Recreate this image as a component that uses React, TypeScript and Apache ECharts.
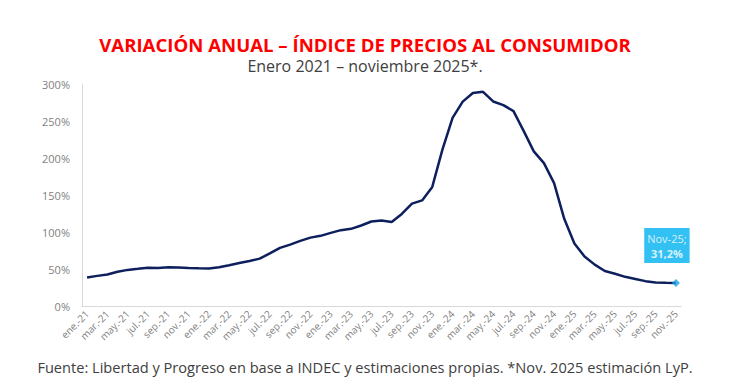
import React, { useEffect, useRef } from "react";
import * as echarts from "echarts";

const years = ["21", "22", "23", "24", "25"];
const months = ["ene.", "feb.", "mar.", "abr.", "may.", "jun.", "jul.", "ago.", "sep.", "oct.", "nov.", "dic."];
const categories: string[] = [];
years.forEach((y) => months.forEach((m) => categories.push(`${m}-${y}`)));
categories.splice(59);

const inflation = [
  38.5, 40.7, 42.6, 46.3, 48.8, 50.2, 51.8, 51.4, 52.5, 52.1, 51.2, 50.9,
  50.7, 52.3, 55.1, 58.0, 60.7, 64.0, 71.0, 78.5, 83.0, 88.0, 92.4, 94.8,
  98.8, 102.5, 104.3, 108.8, 114.2, 115.6, 113.4, 124.4, 138.3, 142.7, 160.9, 211.4,
  254.2, 276.2, 287.9, 289.4, 276.4, 271.5, 263.4, 236.7, 209.0, 193.0, 166.0, 117.8,
  84.5, 66.9, 55.9, 47.3, 43.5, 39.4, 36.6, 33.6, 31.8, 31.3, 31.2,
];

const yTicks = [0, 50, 100, 150, 200, 250, 300];

const titleText = "VARIACIÓN ANUAL – ÍNDICE DE PRECIOS AL CONSUMIDOR";
const subtitleText = "Enero 2021 – noviembre 2025*.";
const sourceText = "Fuente: Libertad y Progreso en base a INDEC y estimaciones propias. *Nov. 2025 estimación LyP.";
const lastLabel = "Nov-25;";
const lastValueLabel = "31,2%";

export default function App() {
  const ref = useRef<HTMLDivElement>(null);
  useEffect(() => {
    if (!ref.current) return;
    const chart = echarts.init(ref.current, null, { renderer: "svg" });
    const lastIdx = inflation.length - 1;
    chart.setOption({
      animation: false,
      backgroundColor: "#ffffff",
      textStyle: { fontFamily: "Open Sans" },
      title: [
        {
          text: titleText,
          left: "center",
          top: 30,
          textStyle: { color: "#ff0000", fontSize: 18.6, fontWeight: "bold", fontFamily: "Open Sans" },
        },
        {
          text: subtitleText,
          left: "center",
          top: 53,
          textStyle: { color: "#404040", fontSize: 16, fontWeight: "normal", fontFamily: "Open Sans" },
        },
        {
          text: sourceText,
          left: "center",
          top: 354,
          textStyle: { color: "#404040", fontSize: 14.6, fontWeight: "normal", fontFamily: "Open Sans" },
        },
      ],
      grid: { left: 82, right: 49, top: 84, bottom: 83, containLabel: false },
      xAxis: {
        type: "category",
        data: categories,
        boundaryGap: true,
        axisLine: { show: true, lineStyle: { color: "#d9d9d9", width: 1 } },
        axisTick: { show: false },
        axisLabel: {
          interval: 1,
          rotate: 45,
          color: "#7f7f7f",
          fontSize: 10,
          margin: 6,
        },
        splitLine: { show: false },
      },
      yAxis: {
        type: "value",
        min: yTicks[0],
        max: yTicks[yTicks.length - 1],
        interval: 50,
        axisLine: { show: true, lineStyle: { color: "#d9d9d9", width: 1 } },
        axisTick: { show: false },
        axisLabel: { color: "#7f7f7f", fontSize: 11, margin: 12, formatter: "{value}%" },
        splitLine: { show: false },
      },
      series: [
        {
          type: "line",
          data: inflation,
          showSymbol: false,
          symbol: "none",
          lineStyle: { color: "#0d1f5c", width: 2.5 },
          z: 2,
        },
        {
          type: "scatter",
          data: [[categories[lastIdx], inflation[lastIdx]]],
          symbol: "diamond",
          symbolSize: 8,
          itemStyle: { color: "#1ba1e2" },
          z: 3,
          label: {
            show: true,
            position: "top",
            distance: 16,
            offset: [-9, 0],
            backgroundColor: "#00b0f0",
            padding: [3, 3, 2, 3],
            lineHeight: 15,
            formatter: () => `{a|${lastLabel}}\n{b|${lastValueLabel}}`,
            rich: {
              a: { color: "#ffffff", fontSize: 11, fontFamily: "Open Sans", lineHeight: 15, align: "center" },
              b: { color: "#ffffff", fontSize: 11, fontWeight: "bold", fontFamily: "Open Sans", lineHeight: 15, align: "center" },
            },
          },
        },
      ],
    });
    return () => chart.dispose();
  }, []);
  return <div ref={ref} style={{ width: 730, height: 389, position: "absolute", left: 0, top: 0 }} />;
}
